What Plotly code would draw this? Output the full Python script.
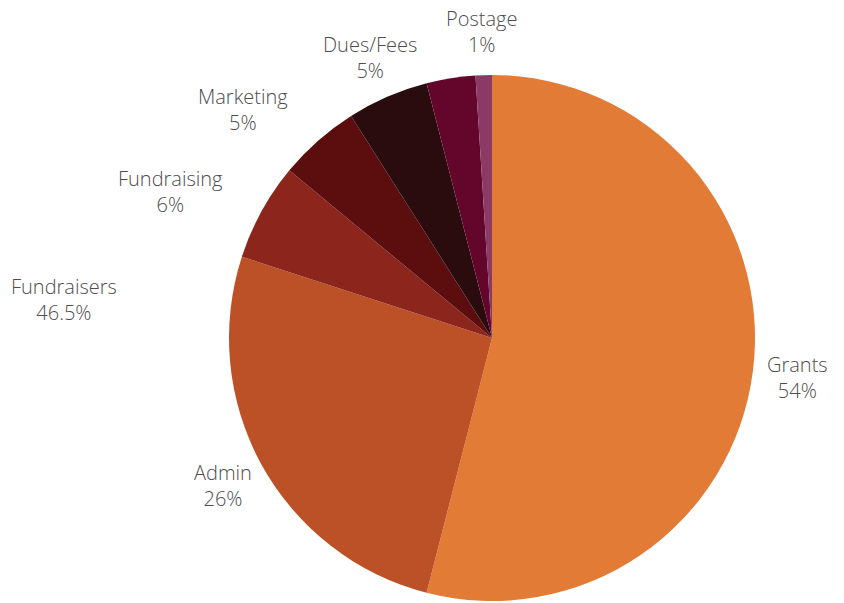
import plotly.graph_objects as go

# Data
categories = ["Grants", "Admin", "Fundraisers", "Fundraising", "Marketing", "Dues/Fees", "Postage"]
values = [54, 26, 6, 5, 5, 3, 1]
label_names = ["Grants", "Admin", "Fundraisers", "Fundraising", "Marketing", "Dues/Fees", "Postage"]
label_texts = ["54%", "26%", "46.5%", "6%", "5%", "5%", "1%"]

colors = ["#E27B36", "#BC5127", "#8C261C", "#5C0D0D", "#2A0B0E", "#64062C", "#8A3A65"]

W, H = 844, 603
# label centres in pixels (layout only)
label_pos = [(797, 377.5), (223, 485.5), (64, 299.5), (170, 191.5), (243, 109.5), (370, 57.5), (482, 31.5)]

fig = go.Figure(go.Pie(
    labels=categories,
    values=values,
    sort=False,
    direction="clockwise",
    rotation=0,
    textinfo="none",
    hoverinfo="label+percent",
    marker=dict(colors=colors, line=dict(width=0)),
    domain=dict(x=[229 / W, 755 / W], y=[2 / H, 1 - 75 / H]),
    showlegend=False,
))

for name, txt, (px, py) in zip(label_names, label_texts, label_pos):
    fig.add_annotation(
        x=px / W, y=1 - py / H, xref="paper", yref="paper",
        text=f"{name}<br>{txt}", showarrow=False,
        xanchor="center", yanchor="middle", align="center",
        font=dict(family="Open Sans", size=20, color="#4D4D4D", weight=300),
    )

fig.update_layout(
    width=W, height=H,
    margin=dict(l=0, r=0, t=0, b=0),
    paper_bgcolor="white", plot_bgcolor="white",
)

fig.write_html("out.html")
